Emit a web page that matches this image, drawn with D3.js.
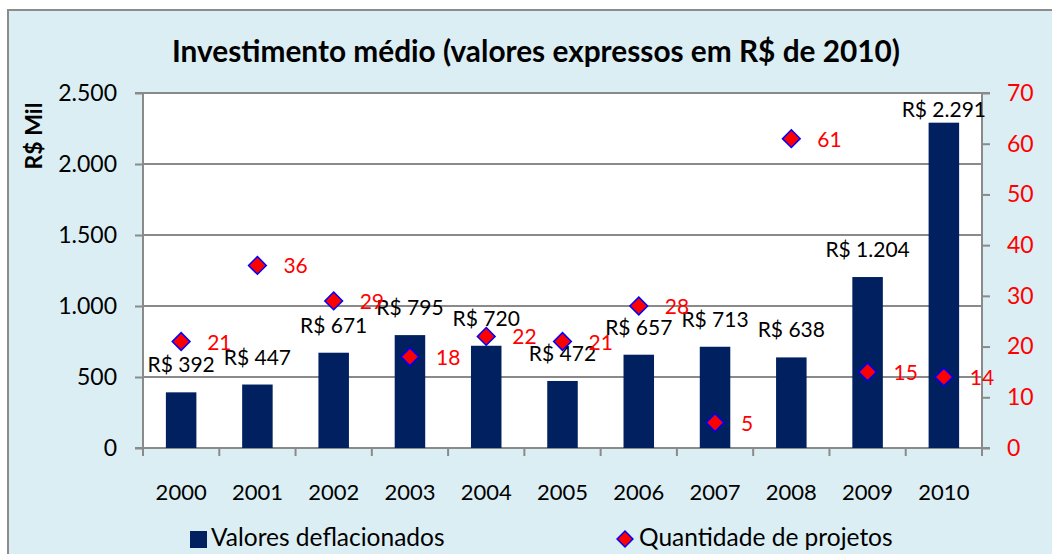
<!DOCTYPE html>
<html>
<head>
<meta charset="utf-8">
<script src="https://cdn.jsdelivr.net/npm/d3@7"></script>
<style>
  body { margin: 0; background: #fff; }
  text { font-family: Lato, "Open Sans", sans-serif; }
</style>
</head>
<body>
<div id="chart"></div>
<script>
// data
var years = ["2000", "2001", "2002", "2003", "2004", "2005", "2006", "2007", "2008", "2009", "2010"];
var valores = [392, 447, 671, 795, 720, 472, 657, 713, 638, 1204, 2291];
var projetos = [21, 36, 29, 18, 22, 21, 28, 5, 61, 15, 14];
var leftTicks = [0, 500, 1000, 1500, 2000, 2500];
var rightTicks = [0, 10, 20, 30, 40, 50, 60, 70];

var svgWidth = 1052;
var svgHeight = 554;

var plot = { left: 143, right: 982, top: 93, bottom: 448 };

var svg = d3.select("#chart")
  .append("svg")
  .attr("width", svgWidth)
  .attr("height", svgHeight);

// chart area background + border
svg.append("rect")
  .attr("x", 8)
  .attr("y", 10)
  .attr("width", svgWidth + 10)
  .attr("height", svgHeight + 10)
  .attr("fill", "#DBEEF3")
  .attr("stroke", "#8C8C8C")
  .attr("stroke-width", 2);

// plot area
svg.append("rect")
  .attr("x", plot.left)
  .attr("y", plot.top)
  .attr("width", plot.right - plot.left)
  .attr("height", plot.bottom - plot.top)
  .attr("fill", "#fff");

// scales
var x = d3.scaleBand()
  .domain(years)
  .range([plot.left, plot.right])
  .paddingInner(0.6)
  .paddingOuter(0.3);

var xOuter = d3.scaleBand()
  .domain(years)
  .range([plot.left, plot.right]);

var yLeft = d3.scaleLinear()
  .domain([0, 2500])
  .range([plot.bottom, plot.top]);

var yRight = d3.scaleLinear()
  .domain([0, 70])
  .range([plot.bottom, plot.top]);

var fmt = d3.formatLocale({ decimal: ",", thousands: ".", grouping: [3], currency: ["R$ ", ""] }).format(",");

// gridlines
svg.append("g")
  .selectAll("line")
  .data(leftTicks.slice(1))
  .enter()
  .append("line")
  .attr("x1", plot.left)
  .attr("x2", plot.right)
  .attr("y1", d => yLeft(d))
  .attr("y2", d => yLeft(d))
  .attr("stroke", "#8A8A8A")
  .attr("stroke-width", 2);

// left axis
var leftAxis = svg.append("g")
  .attr("transform", `translate(${plot.left}, 0)`)
  .call(d3.axisLeft(yLeft).tickValues(leftTicks).tickFormat(fmt).tickSize(8).tickPadding(18));

// right axis
var rightAxis = svg.append("g")
  .attr("transform", `translate(${plot.right}, 0)`)
  .call(d3.axisRight(yRight).tickValues(rightTicks).tickSize(8).tickPadding(17));

// bottom axis, ticks on category boundaries
var bottomAxis = svg.append("g")
  .attr("transform", `translate(0, ${plot.bottom})`)
  .call(d3.axisBottom(xOuter).tickSize(0).tickPadding(36));

bottomAxis.selectAll(".bnd")
  .data(d3.range(years.length + 1))
  .enter()
  .append("line")
  .attr("x1", i => plot.left + i * xOuter.step())
  .attr("x2", i => plot.left + i * xOuter.step())
  .attr("y1", 0)
  .attr("y2", 8)
  .attr("stroke", "#8A8A8A")
  .attr("stroke-width", 2);

[leftAxis, rightAxis, bottomAxis].forEach(function(g) {
  g.select(".domain").attr("stroke", "#8A8A8A").attr("stroke-width", 2);
  g.selectAll(".tick line").attr("stroke", "#8A8A8A").attr("stroke-width", 2);
  g.selectAll("text")
    .attr("font-family", "Lato, sans-serif")
    .attr("font-size", 23)
    .attr("fill", "#000");
});
bottomAxis.selectAll("text").attr("font-size", 22);
rightAxis.selectAll("text").attr("fill", "#FF0000");
leftAxis.select(".domain").attr("d", `M-8,${plot.top}H0V${plot.bottom}H-8`);
rightAxis.select(".domain").attr("d", `M8,${plot.top}H0V${plot.bottom}H8`);
bottomAxis.select(".domain").attr("d", `M${plot.left},0H${plot.right}`);

// bars
svg.append("g")
  .selectAll("rect")
  .data(valores)
  .enter()
  .append("rect")
  .attr("x", (d, i) => x(years[i]))
  .attr("y", d => yLeft(d))
  .attr("width", x.bandwidth())
  .attr("height", d => plot.bottom - yLeft(d))
  .attr("fill", "#002060");

// bar labels (kept inside the plot area like Excel does)
svg.append("g")
  .selectAll("text")
  .data(valores)
  .enter()
  .append("text")
  .attr("x", (d, i) => x(years[i]) + x.bandwidth() / 2)
  .attr("y", d => Math.max(yLeft(d) - 20, plot.top + 24))
  .attr("text-anchor", "middle")
  .attr("font-size", 21)
  .attr("fill", "#000")
  .text(d => "R$ " + fmt(d));

// diamonds
var diamond = d3.symbol().type(d3.symbolDiamond2).size(200);

svg.append("g")
  .selectAll("path")
  .data(projetos)
  .enter()
  .append("path")
  .attr("d", diamond)
  .attr("transform", (d, i) => `translate(${xOuter(years[i]) + xOuter.bandwidth() / 2}, ${yRight(d)})`)
  .attr("fill", "#FF0000")
  .attr("stroke", "#0000FF")
  .attr("stroke-width", 1.5);

svg.append("g")
  .selectAll("text")
  .data(projetos)
  .enter()
  .append("text")
  .attr("x", (d, i) => xOuter(years[i]) + xOuter.bandwidth() / 2 + 26)
  .attr("y", d => yRight(d) + 8)
  .attr("font-size", 21)
  .attr("fill", "#FF0000")
  .text(d => d);

// title
svg.append("text")
  .attr("x", 536)
  .attr("y", 62)
  .attr("text-anchor", "middle")
  .attr("font-size", 29.8)
  .attr("font-weight", "bold")
  .attr("fill", "#000")
  .text("Investimento médio (valores expressos em R$ de 2010)");

// y axis title
svg.append("text")
  .attr("transform", "translate(42, 136) rotate(-90)")
  .attr("text-anchor", "middle")
  .attr("font-size", 23)
  .attr("font-weight", "bold")
  .attr("fill", "#000")
  .text("R$ Mil");

// legend
var legend = svg.append("g");

legend.append("rect")
  .attr("x", 190)
  .attr("y", 531)
  .attr("width", 17)
  .attr("height", 17)
  .attr("fill", "#002060");

legend.append("text")
  .attr("x", 211)
  .attr("y", 546)
  .attr("font-size", 24.5)
  .attr("fill", "#000")
  .text("Valores deflacionados");

legend.append("path")
  .attr("d", d3.symbol().type(d3.symbolDiamond2).size(160))
  .attr("transform", "translate(625, 539)")
  .attr("fill", "#FF0000")
  .attr("stroke", "#0000FF")
  .attr("stroke-width", 1.5);

legend.append("text")
  .attr("x", 639)
  .attr("y", 546)
  .attr("font-size", 24.5)
  .attr("fill", "#000")
  .text("Quantidade de projetos");
</script>
</body>
</html>
